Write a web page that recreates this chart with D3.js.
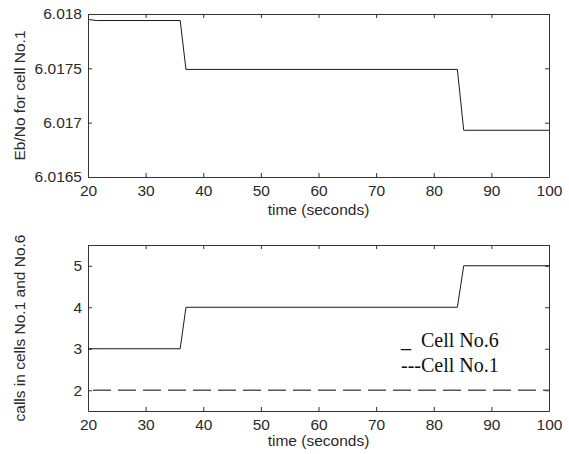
<!DOCTYPE html>
<html>
<head>
<meta charset="utf-8">
<script src="https://cdn.jsdelivr.net/npm/d3@7"></script>
<style>
  body { margin: 0; background: #fff; }
  svg { display: block; }
  .tick text { font-family: "Liberation Sans", Arial, sans-serif; font-size: 15.5px; fill: #2a2a2a; }
  .lbl { font-family: "Liberation Sans", Arial, sans-serif; font-size: 15.5px; fill: #2a2a2a; }
  .legend { font-family: "Liberation Serif", "Times New Roman", serif; font-size: 20px; fill: #111; white-space: pre; }
</style>
</head>
<body>
<script>
// values
var timeTop = [20, 21.5, 36, 37, 84.1, 85.2, 100];
var ebno    = [6.01795, 6.01794, 6.01794, 6.01749, 6.01749, 6.01693, 6.01693];

var timeCell6 = [20, 36, 37, 84.1, 85.2, 100];
var callsCell6 = [3, 3, 4, 4, 5, 5];
var timeCell1 = [20, 100];
var callsCell1 = [2, 2];

var xTicks = [20, 30, 40, 50, 60, 70, 80, 90, 100];
var yTicksTop = [6.0165, 6.017, 6.0175, 6.018];
var yTickLabelsTop = ["6.0165", "6.017", "6.0175", "6.018"];
var yTicksBot = [2, 3, 4, 5];

var width = 569, height = 454;
var svg = d3.select("body").append("svg")
    .attr("width", width)
    .attr("height", height);

var left = 88, right = 549;

var x = d3.scaleLinear().domain([20, 100]).range([left, right]);

// draw one panel with frame + inward ticks on all sides
function panel(top, bottom, yDomain, yTicks, yFmt) {
  var y = d3.scaleLinear().domain(yDomain).range([bottom, top]);
  var g = svg.append("g");

  g.append("g").attr("transform", "translate(0," + bottom + ")")
    .call(d3.axisBottom(x).tickValues(xTicks).tickSizeInner(-4).tickSizeOuter(0).tickPadding(8));
  g.append("g").attr("transform", "translate(0," + top + ")")
    .call(d3.axisTop(x).tickValues(xTicks).tickSizeInner(-4).tickSizeOuter(0).tickFormat(""));
  g.append("g").attr("transform", "translate(" + left + ",0)")
    .call(d3.axisLeft(y).tickValues(yTicks).tickSizeInner(-4).tickSizeOuter(0).tickPadding(6).tickFormat(yFmt));
  g.append("g").attr("transform", "translate(" + right + ",0)")
    .call(d3.axisRight(y).tickValues(yTicks).tickSizeInner(-4).tickSizeOuter(0).tickFormat(""));

  g.selectAll(".domain").attr("stroke", "#333");
  g.selectAll(".tick line").attr("stroke", "#333");
  return y;
}

// top panel
var yTop = panel(14, 177, [6.0165, 6.018], yTicksTop, function(d, i) { return yTickLabelsTop[i]; });

var line1 = d3.line()
    .x(function(d) { return x(d[0]); })
    .y(function(d) { return yTop(d[1]); });

svg.append("path")
    .datum(d3.zip(timeTop, ebno))
    .attr("d", line1)
    .attr("fill", "none")
    .attr("stroke", "#1a1a1a")
    .attr("stroke-width", 1);

svg.append("text").attr("class", "lbl")
    .attr("x", (left + right) / 2).attr("y", 215)
    .attr("text-anchor", "middle")
    .text("time (seconds)");

svg.append("text").attr("class", "lbl")
    .attr("transform", "translate(25," + (14 + 177) / 2 + ") rotate(-90)")
    .attr("text-anchor", "middle")
    .text("Eb/No for cell No.1");

// bottom panel
var yBot = panel(245, 411, [1.5, 5.5], yTicksBot, d3.format("d"));

var line2 = d3.line()
    .x(function(d) { return x(d[0]); })
    .y(function(d) { return yBot(d[1]); });

svg.append("path")
    .datum(d3.zip(timeCell6, callsCell6))
    .attr("d", line2)
    .attr("fill", "none")
    .attr("stroke", "#1a1a1a")
    .attr("stroke-width", 1);

svg.append("path")
    .datum(d3.zip(timeCell1, callsCell1))
    .attr("d", line2)
    .attr("fill", "none")
    .attr("stroke", "#555")
    .attr("stroke-width", 1.3)
    .attr("stroke-dasharray", "18,7")
    .attr("stroke-dashoffset", 20);

svg.append("text").attr("class", "lbl")
    .attr("x", (left + right) / 2).attr("y", 446)
    .attr("text-anchor", "middle")
    .text("time (seconds)");

svg.append("text").attr("class", "lbl")
    .attr("transform", "translate(25," + (245 + 411) / 2 + ") rotate(-90)")
    .attr("text-anchor", "middle")
    .text("calls in cells No.1 and No.6");

// legend (plain text, as in the original)
svg.append("text").attr("class", "legend")
    .attr("x", 401).attr("y", 347)
    .text("_  Cell No.6");
svg.append("text").attr("class", "legend")
    .attr("x", 401).attr("y", 372)
    .text("---Cell No.1");
</script>
</body>
</html>
